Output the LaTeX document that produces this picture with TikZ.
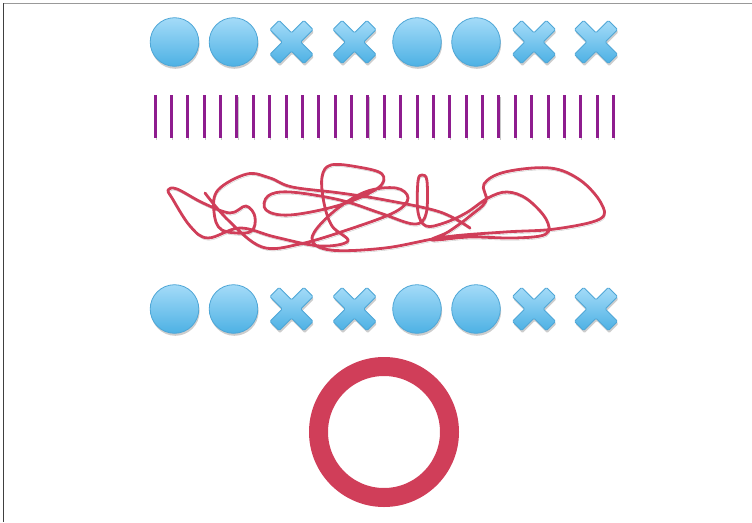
\documentclass[tikz,border=0pt]{standalone}
\usepackage{tikz}
\usetikzlibrary{shadows}
\definecolor{skytop}{HTML}{A4DBF8}
\definecolor{skybot}{HTML}{4DB1E4}
\definecolor{skyline}{HTML}{4EA6D6}
\definecolor{plum}{HTML}{8E1C8E}
\definecolor{rosered}{HTML}{D03E59}

\tikzset{
  softshadow/.style={drop shadow={shadow xshift=0.8pt,shadow yshift=-2.5pt,opacity=0.28,fill=black!70}},
  lineshadow/.style={preaction={draw=black,opacity=0.22,transform canvas={xshift=0.8pt,yshift=-2.2pt}}},
  bluefill/.style={top color=skytop,bottom color=skybot,draw=skyline,line width=0.8pt,softshadow},
  dotsign/.pic={\path[bluefill] (0,0) circle (24.3);},
  xsign/.pic={\path[bluefill,rounded corners=1.2pt]
    (0,-9.2) -- (-12.4,-21.6) -- (-21.6,-12.4) -- (-9.2,0) -- (-21.6,12.4) -- (-12.4,21.6)
    -- (0,9.2) -- (12.4,21.6) -- (21.6,12.4) -- (9.2,0) -- (21.6,-12.4) -- (12.4,-21.6) -- cycle;},
  bar/.style={plum,line width=3pt,lineshadow},
  scribble/.style={rosered,line width=2.8pt,line cap=round,line join=round,lineshadow}
}

\begin{document}
\begin{tikzpicture}[x=1pt,y=-1pt]
  \useasboundingbox (0,0) rectangle (752,522);
  % frame
  \draw[black!40,line width=0.8pt] (3,3) -- (752,3);
  \draw[black!75,line width=0.8pt] (3.5,3) -- (3.5,522);
  % two rows of signs
  \foreach \y in {42,309} {
    \foreach \x in {174.5,233.5,417,476} \pic at (\x,\y) {dotsign};
    \foreach \x in {291.5,354.5,534,596} \pic at (\x,\y) {xsign};
  }
  % tally bars
  \foreach \i in {0,...,28}
    \draw[bar] ({155+16.38*\i},95) -- ({155+16.38*\i},138);
  % the tangle
  \draw[scribble] plot[smooth,tension=0.6] coordinates {
    (205,193) (228,220) (262,247) (300,244) (350,229) (395,212) (408,198) (396,188)
    (365,192) (332,213) (312,238) (330,250) (385,248) (445,237) (505,232) (555,229)
    (600,219) (601,203) (580,180) (550,168) (505,172) (484,184) (486,201) (470,216)
    (448,232) (432,240) (470,237) (515,238) (546,234) (546,219) (527,199) (507,192)
    (488,198) (466,213) (444,223) (426,226) (418,212) (418,181) (422,175) (427,181)
    (426,214) (414,224) (380,213) (340,200) (290,192) (268,196) (266,210) (290,215)
    (340,205) (378,188) (382,174) (358,167) (331,165) (322,177) (324,203) (332,226)
    (348,241) (320,246) (275,237) (240,228) (208,238) (190,226) (172,198) (168,190)
    (177,189) (203,203) (230,213) (246,206) (255,217) (250,232) (222,230) (214,212)
    (218,190) (247,174) (270,178) (292,187) (340,193) (385,200) (440,212) (470,228)};
  % ring
  \draw[rosered,line width=19pt,lineshadow] (384,432) circle (65.5);
\end{tikzpicture}
\end{document}
